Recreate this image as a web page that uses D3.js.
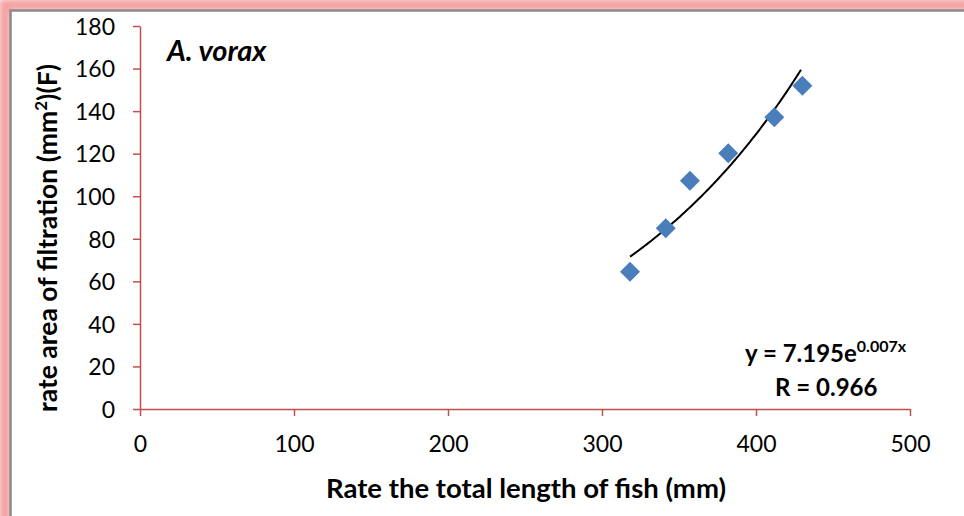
<!DOCTYPE html>
<html>
<head>
<meta charset="utf-8">
<script src="https://cdn.jsdelivr.net/npm/d3@7"></script>
<style>
  body { margin: 0; background: #fff; }
  text { font-family: Lato, "Open Sans", sans-serif; fill: #000; }
</style>
</head>
<body>
<div id="chart"></div>
<script>
// fish total length (mm) vs filtration area (mm2)
let lengths = [318.2, 341.4, 357.1, 382.0, 411.9, 430.1];
let areas = [64.5, 84.9, 107.3, 120.2, 137.1, 151.9];
let xTicks = [0, 100, 200, 300, 400, 500];
let yTicks = [0, 20, 40, 60, 80, 100, 120, 140, 160, 180];

let W = 964, H = 516;
let axisColor = "#c0504d";
let pointColor = "#4a7ebb";

let svg = d3.select("#chart").append("svg")
  .attr("width", W)
  .attr("height", H);

// frame with pink glow
let defs = svg.append("defs");
defs.append("filter").attr("id", "glow")
  .attr("x", "-5%").attr("y", "-5%").attr("width", "110%").attr("height", "110%")
  .append("feGaussianBlur").attr("stdDeviation", 3);

svg.append("rect")
  .attr("x", 5).attr("y", 5)
  .attr("width", 1000).attr("height", 600)
  .attr("fill", "none")
  .attr("stroke", "#f4a0a0")
  .attr("stroke-width", 12)
  .attr("filter", "url(#glow)");
svg.append("rect")
  .attr("x", 10.5).attr("y", 10.5)
  .attr("width", 1000).attr("height", 600)
  .attr("fill", "#fff")
  .attr("stroke", "#8a8a8a")
  .attr("stroke-width", 2.5);

let x = d3.scaleLinear().domain([0, 500]).range([140, 910]);
let y = d3.scaleLinear().domain([0, 180]).range([409, 26]);

// axes
let xAxis = svg.append("g")
  .attr("transform", "translate(0," + y(0) + ")")
  .call(d3.axisBottom(x).tickValues(xTicks).tickSize(7).tickSizeOuter(0));
let yAxis = svg.append("g")
  .attr("transform", "translate(" + x(0) + ",0)")
  .call(d3.axisLeft(y).tickValues(yTicks).tickSize(7).tickSizeOuter(0));

[xAxis, yAxis].forEach(function (g) {
  g.select(".domain").attr("stroke", axisColor).attr("stroke-width", 1.5);
  g.selectAll(".tick line").attr("stroke", axisColor).attr("stroke-width", 1.5);
  g.selectAll(".tick text")
    .style("font-family", "Lato, sans-serif")
    .style("font-size", "23px")
    .attr("fill", "#000");
});
xAxis.selectAll(".tick text").attr("dy", null).attr("y", 43);
yAxis.selectAll(".tick text").attr("x", -25).attr("dy", "0.36em");

// exponential trend from least squares on ln(y)
let n = lengths.length;
let mx = d3.mean(lengths);
let ly = areas.map(function (v) { return Math.log(v); });
let my = d3.mean(ly);
let sxy = 0, sxx = 0;
for (let i = 0; i < n; i++) {
  sxy += (lengths[i] - mx) * (ly[i] - my);
  sxx += (lengths[i] - mx) * (lengths[i] - mx);
}
let b = sxy / sxx;
let a = Math.exp(my - b * mx);

let trendX = d3.range(d3.min(lengths), d3.max(lengths) + 0.01, 1);
let line = d3.line()
  .x(function (d) { return x(d); })
  .y(function (d) { return y(a * Math.exp(b * d)); });

svg.append("path")
  .datum(trendX)
  .attr("d", line)
  .attr("fill", "none")
  .attr("stroke", "#000")
  .attr("stroke-width", 2);

// diamond markers
let data = lengths.map(function (v, i) { return {len: v, area: areas[i]}; });
svg.selectAll(".pt")
  .data(data)
  .enter()
  .append("path")
  .attr("class", "pt")
  .attr("d", d3.symbol(d3.symbolSquare, 200))
  .attr("transform", function (d) {
    return "translate(" + x(d.len) + "," + y(d.area) + ") rotate(45)";
  })
  .attr("fill", pointColor);

// titles
svg.append("text")
  .attr("x", 526).attr("y", 498)
  .attr("text-anchor", "middle")
  .style("font-size", "27.5px")
  .style("font-weight", "bold")
  .text("Rate the total length of fish (mm)");

let yt = svg.append("text")
  .attr("transform", "translate(57,238) rotate(-90)")
  .attr("text-anchor", "middle")
  .style("font-size", "26.5px")
  .style("font-weight", "bold");
yt.append("tspan").text("rate area of filtration (mm");
yt.append("tspan").attr("dy", -10).style("font-size", "17px").text("2");
yt.append("tspan").attr("dy", 10).text(")(F)");

svg.append("text")
  .attr("x", 167).attr("y", 61)
  .style("font-size", "29px")
  .style("font-weight", "bold")
  .style("font-style", "italic")
  .text("A. vorax");

let eq = svg.append("text")
  .attr("x", 745).attr("y", 362)
  .style("font-size", "24px")
  .style("font-weight", "bold");
eq.append("tspan").text("y = 7.195e");
eq.append("tspan").attr("dy", -10).style("font-size", "16px").text("0.007x");

svg.append("text")
  .attr("x", 775).attr("y", 396)
  .style("font-size", "24px")
  .style("font-weight", "bold")
  .text("R = 0.966");
</script>
</body>
</html>
